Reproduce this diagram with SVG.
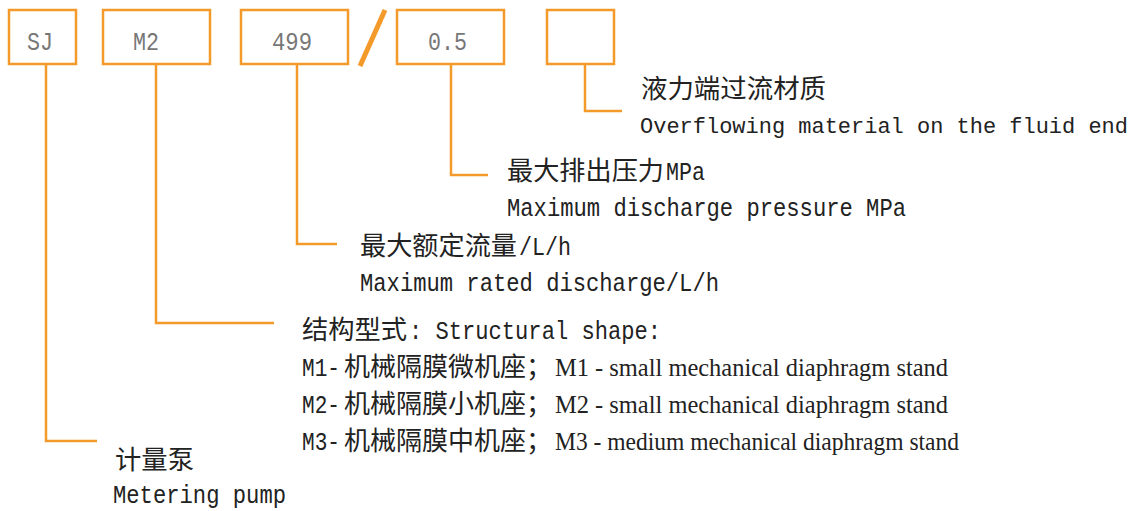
<svg xmlns="http://www.w3.org/2000/svg" width="1138" height="511" viewBox="0 0 1138 511">
<style>
.box{fill:none;stroke:#F39A2B;stroke-width:2.5}
.conn{fill:none;stroke:#F39A2B;stroke-width:2.5}
.bt{font-family:"Liberation Mono",monospace;font-size:26px;fill:#777}
.m{font-family:"Liberation Mono","Noto Sans CJK SC",monospace;font-size:26px;fill:#222}
.c{font-family:"Noto Sans CJK SC","Noto Sans CJK TC",sans-serif;font-size:26px;fill:#222}
.s{font-family:"Liberation Serif",serif;font-size:26px;fill:#222}
</style>
<rect width="1138" height="511" fill="#fff"/>
<g id="box-sj"><rect class="box" x="9" y="10" width="67" height="54"/><text class="bt" x="27" y="50" textLength="26" lengthAdjust="spacingAndGlyphs">SJ</text></g>
<g id="box-m2"><rect class="box" x="103" y="10" width="107" height="54"/><text class="bt" x="133" y="50" textLength="26" lengthAdjust="spacingAndGlyphs">M2</text></g>
<g id="box-499"><rect class="box" x="241" y="10" width="107" height="54"/><text class="bt" x="272" y="50" textLength="40" lengthAdjust="spacingAndGlyphs">499</text></g>
<g id="slash"><line x1="360" y1="66" x2="385" y2="10" stroke="#F39A2B" stroke-width="5"/></g>
<g id="box-05"><rect class="box" x="397" y="10" width="107" height="54"/><text class="bt" x="428" y="50" textLength="39" lengthAdjust="spacingAndGlyphs">0.5</text></g>
<g id="box-empty"><rect class="box" x="547" y="10" width="67" height="54"/></g>
<g id="connectors">
<path class="conn" d="M46 64V441H97"/>
<path class="conn" d="M156 64V323H274"/>
<path class="conn" d="M297 64V244H337"/>
<path class="conn" d="M451 64V175H488"/>
<path class="conn" d="M585 64V111H622"/>
</g>
<g id="label-material">
<text class="c" x="641" y="98" textLength="185" lengthAdjust="spacingAndGlyphs">液力端过流材质</text>
<text class="m" x="640" y="133" style="font-size:22.4px" textLength="488" lengthAdjust="spacingAndGlyphs">Overflowing material on the fluid end</text>
</g>
<g id="label-pressure">
<text x="507" y="180"><tspan class="c" x="507" textLength="157" lengthAdjust="spacingAndGlyphs">最大排出压力</tspan><tspan class="m" x="666" textLength="39" lengthAdjust="spacingAndGlyphs">MPa</tspan></text>
<text class="m" x="507" y="216" textLength="399" lengthAdjust="spacingAndGlyphs">Maximum discharge pressure MPa</text>
</g>
<g id="label-flow">
<text x="360" y="255"><tspan class="c" x="360" textLength="157" lengthAdjust="spacingAndGlyphs">最大额定流量</tspan><tspan class="m" x="519" textLength="52" lengthAdjust="spacingAndGlyphs">/L/h</tspan></text>
<text class="m" x="360" y="291" textLength="359" lengthAdjust="spacingAndGlyphs">Maximum rated discharge/L/h</text>
</g>
<g id="label-structure">
<text x="302" y="339"><tspan class="c" x="302" textLength="105" lengthAdjust="spacingAndGlyphs">结构型式</tspan><tspan class="m" x="409" textLength="252" lengthAdjust="spacingAndGlyphs">: Structural shape:</tspan></text>
<text x="302" y="376"><tspan class="m" x="302" textLength="38" lengthAdjust="spacingAndGlyphs">M1-</tspan><tspan class="c" x="344" textLength="208" lengthAdjust="spacingAndGlyphs">机械隔膜微机座；</tspan><tspan class="s" x="555" textLength="393" lengthAdjust="spacingAndGlyphs">M1 - small mechanical diaphragm stand</tspan></text>
<text x="302" y="413"><tspan class="m" x="302" textLength="38" lengthAdjust="spacingAndGlyphs">M2-</tspan><tspan class="c" x="344" textLength="208" lengthAdjust="spacingAndGlyphs">机械隔膜小机座；</tspan><tspan class="s" x="555" textLength="393" lengthAdjust="spacingAndGlyphs">M2 - small mechanical diaphragm stand</tspan></text>
<text x="302" y="450"><tspan class="m" x="302" textLength="38" lengthAdjust="spacingAndGlyphs">M3-</tspan><tspan class="c" x="344" textLength="208" lengthAdjust="spacingAndGlyphs">机械隔膜中机座；</tspan><tspan class="s" x="555" textLength="404" lengthAdjust="spacingAndGlyphs">M3 - medium mechanical diaphragm stand</tspan></text>
</g>
<g id="label-pump">
<text class="c" x="115" y="469" textLength="79" lengthAdjust="spacingAndGlyphs">计量泵</text>
<text class="m" x="113" y="503" textLength="173" lengthAdjust="spacingAndGlyphs">Metering pump</text>
</g>
</svg>
